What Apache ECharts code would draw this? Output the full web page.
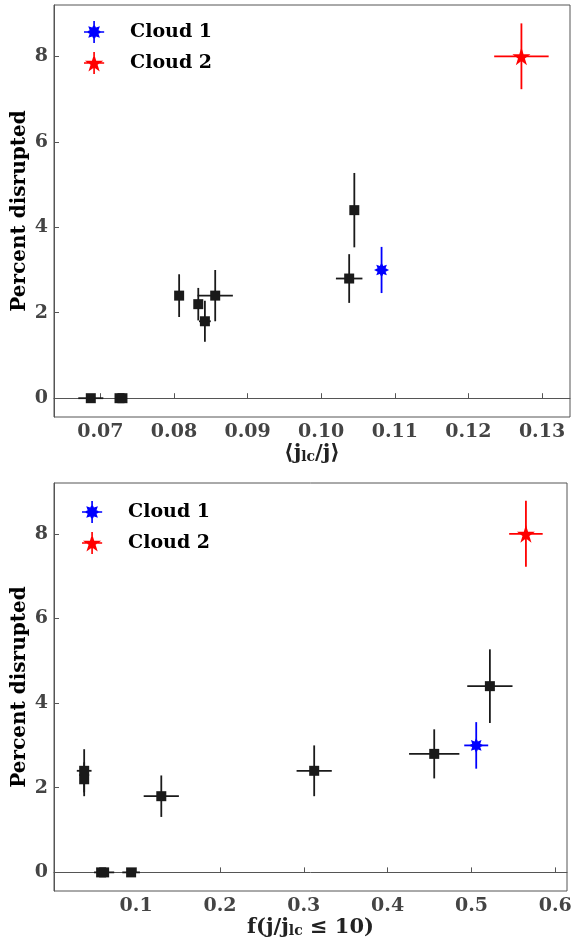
<!DOCTYPE html>
<html><head><meta charset="utf-8">
<script src="https://cdn.jsdelivr.net/npm/echarts@6/dist/echarts.min.js"></script>
<style>html,body{margin:0;padding:0;background:#fff}#c{width:571px;height:941px}</style>
</head><body><div id="c"></div>
<script>
// ---- data ----
const topXTicks = [0.07, 0.08, 0.09, 0.10, 0.11, 0.12, 0.13];
const botXTicks = [0.1, 0.2, 0.3, 0.4, 0.5, 0.6];
const yTicks = [0, 2, 4, 6, 8];
// each row: [x, percent disrupted, x error, y error]
const topBlack = [
  [0.0687, 0, 0.0017, 0],
  [0.0726, 0, 0, 0],
  [0.0730, 0, 0, 0],
  [0.0807, 2.4, 0, 0.5],
  [0.0833, 2.2, 0, 0.38],
  [0.0842, 1.8, 0.0008, 0.48],
  [0.0856, 2.4, 0.0024, 0.6],
  [0.1038, 2.8, 0.0018, 0.57],
  [0.1045, 4.4, 0, 0.87]
];
const topCloud1 = [[0.1082, 3.0, 0.0003, 0.54]];
const topCloud2 = [[0.1272, 8.0, 0.0037, 0.77]];
const botBlack = [
  [0.038, 2.4, 0.0088, 0.51],
  [0.038, 2.2, 0, 0.4],
  [0.130, 1.8, 0.021, 0.49],
  [0.3124, 2.4, 0.021, 0.6],
  [0.4556, 2.8, 0.030, 0.58],
  [0.522, 4.4, 0.027, 0.87],
  [0.0582, 0, 0, 0],
  [0.0618, 0, 0.012, 0],
  [0.094, 0, 0.0105, 0]
];
const botCloud1 = [[0.5057, 3.0, 0.0143, 0.55]];
const botCloud2 = [[0.565, 8.0, 0.02, 0.78]];

// ---- styling helpers ----
const FONT = 'DejaVu Serif';
function starPath(n, ro, ri, cx, cy) {
  let s = '';
  for (let i = 0; i < 2 * n; i++) {
    const a = -Math.PI / 2 + i * Math.PI / n;
    const r = i % 2 === 0 ? ro : ri;
    s += (i === 0 ? 'M' : 'L') + (cx + r * Math.cos(a)).toFixed(3) + ' ' + (cy + r * Math.sin(a)).toFixed(3) + ' ';
  }
  return s + 'Z ';
}
function rectPath(x0, y0, x1, y1) {
  return `M${x0} ${y0} L${x1} ${y0} L${x1} ${y1} L${x0} ${y1} Z `;
}
const blueMarker = 'path://' + starPath(8, 10, 5.8, 12, 12);
const redMarker = 'path://' + starPath(5, 10, 3.82, 12, 12);
const blueIcon = 'path://' + starPath(8, 9, 5.2, 12, 12) + rectPath(11.1, 0, 12.9, 24) + rectPath(1, 11.1, 23, 12.9);
const redIcon = 'path://' + starPath(5, 10.5, 4.0, 12, 12.8) + rectPath(11.1, 0, 12.9, 24) + rectPath(1, 11.1, 23, 12.9);

function errRender(color, w) {
  return function (params, api) {
    const x = api.value(0), y = api.value(1), xe = api.value(2), ye = api.value(3);
    const style = { stroke: color, lineWidth: w };
    const children = [];
    if (ye > 0) {
      const a = api.coord([x, y - ye]), b = api.coord([x, y + ye]);
      children.push({ type: 'line', shape: { x1: a[0], y1: a[1], x2: b[0], y2: b[1] }, style });
    }
    if (xe > 0) {
      const a = api.coord([x - xe, y]), b = api.coord([x + xe, y]);
      children.push({ type: 'line', shape: { x1: a[0], y1: a[1], x2: b[0], y2: b[1] }, style });
    }
    return { type: 'group', children };
  };
}

const tickLabel = { fontFamily: FONT, fontWeight: 'bold', fontSize: 19, color: '#444' };
function xAxis(idx, min, max, ticks, dec, name) {
  return {
    type: 'value', gridIndex: idx, min, max,
    axisLine: { show: true, lineStyle: { color: '#555', width: 1 } },
    axisTick: { show: true, inside: true, length: 5, lineStyle: { color: '#555' }, customValues: ticks },
    axisLabel: Object.assign({ margin: 6, customValues: ticks, formatter: v => v.toFixed(dec) }, tickLabel),
    splitLine: { show: false },
    name, nameLocation: 'middle', nameGap: 24,
    nameTextStyle: {
      fontFamily: FONT, fontWeight: 'bold', fontSize: 21, color: '#222',
      rich: { s: { fontFamily: FONT, fontWeight: 'bold', fontSize: 14, color: '#222', verticalAlign: 'bottom', padding: [8, 0, 0, 0] } }
    }
  };
}
function yAxis(idx) {
  return {
    type: 'value', gridIndex: idx, min: -0.44, max: 9.2,
    axisLine: { show: true, lineStyle: { color: '#555', width: 1 } },
    axisTick: { show: true, inside: true, length: 5, lineStyle: { color: '#555' }, customValues: yTicks },
    axisLabel: Object.assign({ margin: 6, customValues: yTicks, formatter: v => String(v) }, tickLabel),
    splitLine: { show: false },
    name: 'Percent disrupted', nameLocation: 'middle', nameRotate: 90, nameGap: 24, nameMoveOverlap: false,
    nameTextStyle: { fontFamily: FONT, fontWeight: 'bold', fontSize: 20, color: '#000' }
  };
}
function errSeries(idx, data, color) {
  return { type: 'custom', xAxisIndex: idx, yAxisIndex: idx, data, renderItem: errRender(color, 1.8),
    encode: { x: 0, y: 1 }, silent: true, z: 2 };
}
function markSeries(idx, name, data, symbol, size, color) {
  return { type: 'scatter', name, xAxisIndex: idx, yAxisIndex: idx, data: data.map(d => [d[0], d[1]]),
    symbol, symbolSize: size, itemStyle: { color, opacity: 1 }, z: 3, silent: true };
}
function legend(left, top) {
  return {
    data: [{ name: 'Cloud 1', icon: blueIcon, itemStyle: { color: '#0000ff' } },
           { name: 'Cloud 2', icon: redIcon, itemStyle: { color: '#ff0000' } }],
    orient: 'vertical', left, top, itemWidth: 22, itemHeight: 22, itemGap: 9, selectedMode: false,
    textStyle: { fontFamily: FONT, fontWeight: 'bold', fontSize: 19, color: '#000', padding: [0, 0, 0, 20] }
  };
}

const chart = echarts.init(document.getElementById('c'), null, { renderer: 'canvas' });
chart.setOption({
  animation: false,
  backgroundColor: '#fff',
  grid: [
    { left: 54, right: 1, top: 5, height: 412, show: true, borderColor: '#555', borderWidth: 1, containLabel: false, outerBoundsMode: 'none' },
    { left: 54, right: 4, top: 483, height: 408, show: true, borderColor: '#555', borderWidth: 1, containLabel: false, outerBoundsMode: 'none' }
  ],
  legend: [legend(79, 16), legend(77, 496)],
  xAxis: [
    xAxis(0, 0.0637, 0.1338, topXTicks, 2, '⟨j{s|lc}/j⟩'),
    xAxis(1, 0.002, 0.614, botXTicks, 1, 'f(j/j{s|lc} ≤ 10)')
  ],
  yAxis: [yAxis(0), yAxis(1)],
  series: [
    errSeries(0, topBlack, '#1a1a1a'),
    markSeries(0, 'black-top', topBlack, 'rect', 10, '#1a1a1a'),
    errSeries(0, topCloud1, '#0000ff'),
    markSeries(0, 'Cloud 1', topCloud1, blueMarker, 15, '#0000ff'),
    errSeries(0, topCloud2, '#ff0000'),
    markSeries(0, 'Cloud 2', topCloud2, redMarker, 18, '#ff0000'),
    errSeries(1, botBlack, '#1a1a1a'),
    markSeries(1, 'black-bot', botBlack, 'rect', 10, '#1a1a1a'),
    errSeries(1, botCloud1, '#0000ff'),
    markSeries(1, 'Cloud 1', botCloud1, blueMarker, 15, '#0000ff'),
    errSeries(1, botCloud2, '#ff0000'),
    markSeries(1, 'Cloud 2', botCloud2, redMarker, 18, '#ff0000')
  ]
});
</script>
</body></html>
